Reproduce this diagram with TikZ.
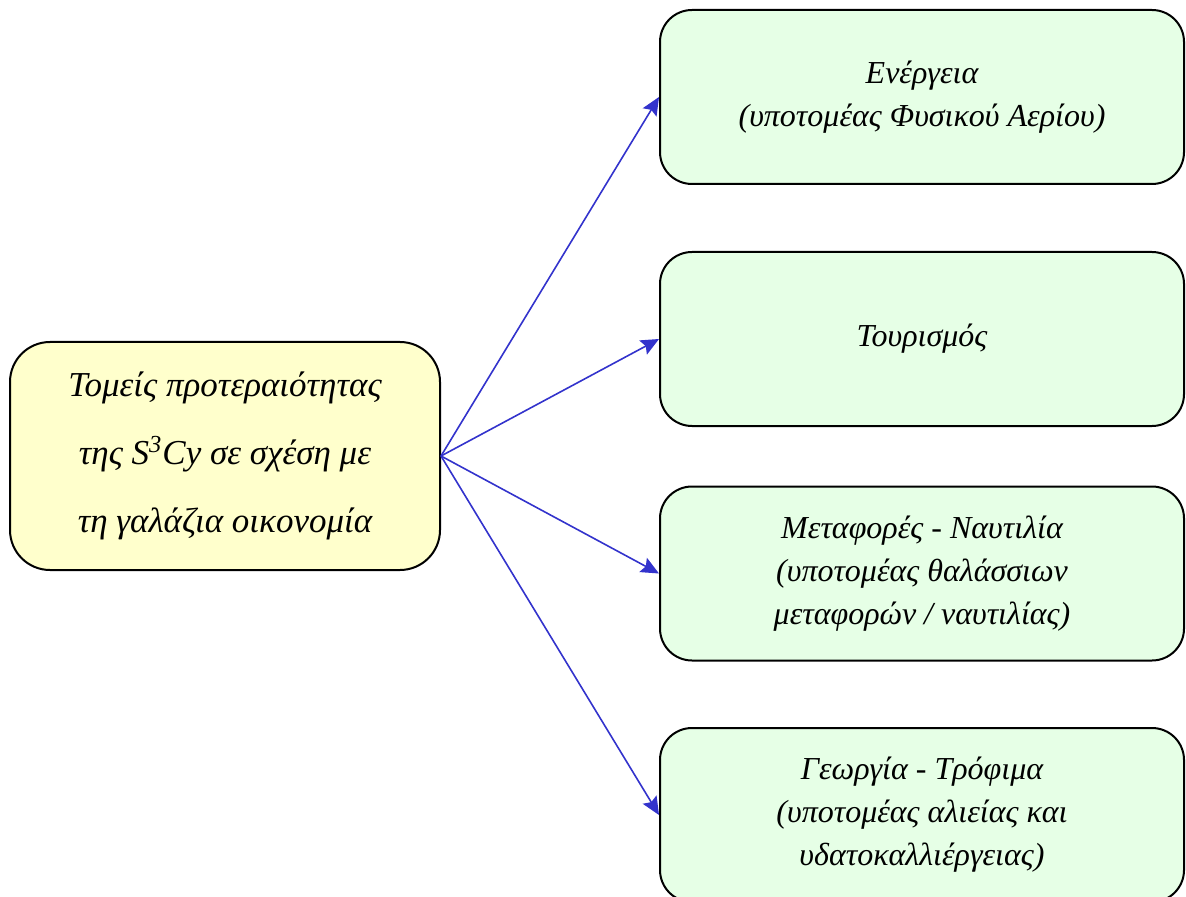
\documentclass[tikz,border=0pt]{standalone}
\usepackage{fontspec}
\setmainfont{Liberation Serif}
\usetikzlibrary{arrows.meta}
\definecolor{boxyellow}{HTML}{FFFFCC}
\definecolor{boxgreen}{HTML}{E6FFE6}
\definecolor{arrowblue}{HTML}{3333CC}
\tikzset{
  mainbox/.style={draw, line width=1pt, rounded corners=20pt, fill=boxyellow,
    minimum width=215pt, minimum height=114pt, align=center,
    font=\fontsize{17.5}{34}\selectfont\itshape},
  sectorbox/.style={draw, line width=1pt, rounded corners=16pt, fill=boxgreen,
    minimum width=262pt, minimum height=87pt, align=center,
    font=\fontsize{16}{21.5}\selectfont\itshape},
  link/.style={draw=arrowblue, line width=0.8pt, -{Stealth[length=9pt,width=8pt,inset=1.5pt]}}
}
\begin{document}
\begin{tikzpicture}[x=0.5pt, y=-0.5pt]
  \useasboundingbox (0,0) rectangle (1186,897);
  \clip (0,0) rectangle (1186,897);
  \node[mainbox] (main) at (225,456) {Τομείς προτεραιότητας\\της S\textsuperscript{3}Cy σε σχέση με\\τη γαλάζια οικονομία};
  \node[sectorbox] (energy) at (922,97) {Ενέργεια\\(υποτομέας Φυσικού Αερίου)};
  \node[sectorbox] (tourism) at (922,339) {Τουρισμός};
  \node[sectorbox] (shipping) at (922,573.5) {Μεταφορές - Ναυτιλία\\(υποτομέας θαλάσσιων\\μεταφορών / ναυτιλίας)};
  \node[sectorbox] (food) at (922,815) {Γεωργία - Τρόφιμα\\(υποτομέας αλιείας και\\υδατοκαλλιέργειας)};
  % links from the main box
  \foreach \t in {energy, tourism, shipping, food}
    \draw[link] (main.east) -- (\t.west);
\end{tikzpicture}
\end{document}
